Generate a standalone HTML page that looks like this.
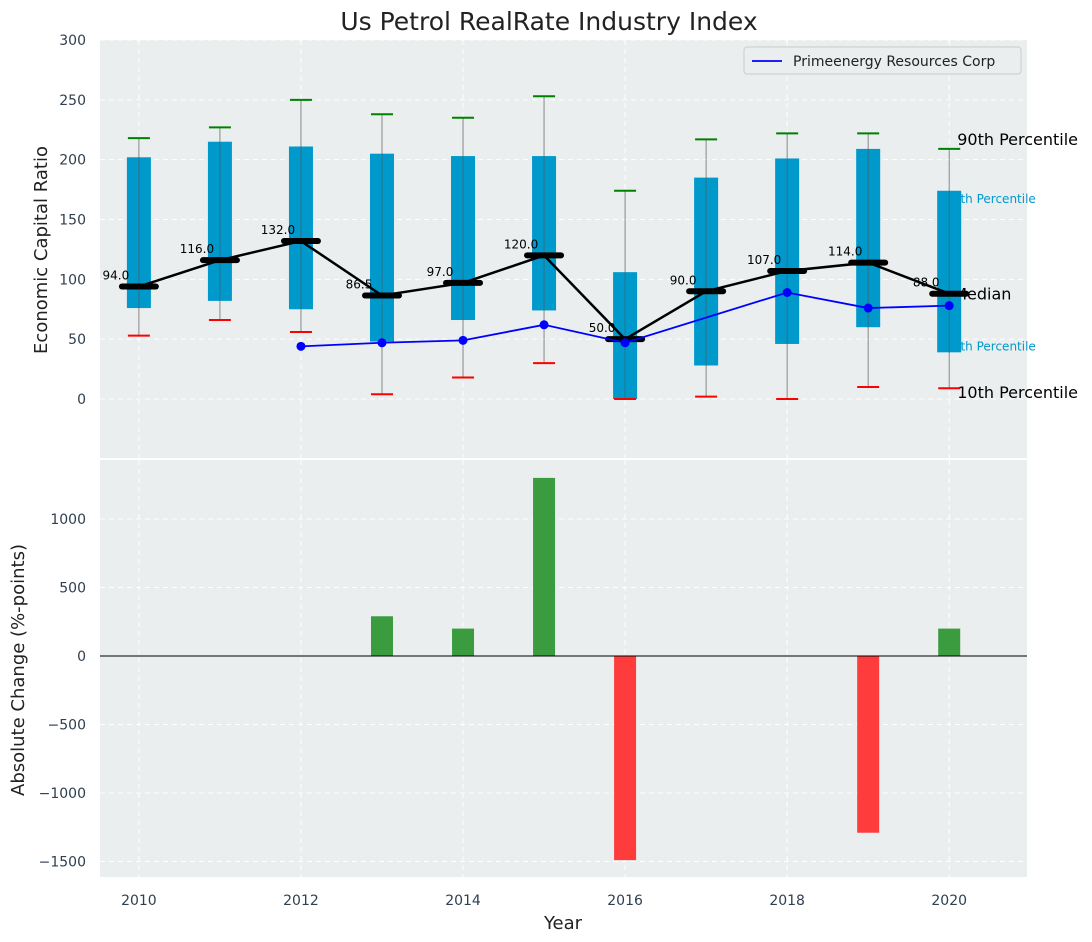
<!DOCTYPE html>
<html><head><meta charset="utf-8"><style>
body{margin:0;background:#fff;}
svg{display:block;font-family:"DejaVu Sans","Liberation Sans",sans-serif;}
</style></head><body>
<svg id="chart" width="1092" height="942"></svg>
<script>
const years=[2010,2011,2012,2013,2014,2015,2016,2017,2018,2019,2020];
const p10=[53,66,56,4,18,30,0,2,0,10,9];
const p25=[76,82,75,48,66,74,0,28,46,60,39];
const medians=[94,116,132,86.5,97,120,50,90,107,114,88];
const p75=[202,215,211,205,203,203,106,185,201,209,174];
const p90=[218,227,250,238,235,253,174,217,222,222,209];
const compYears=[2012,2013,2014,2015,2016,2018,2019,2020];
const compVals=[44,47,49,62,47,89,76,78];
const changeYears=[2013,2014,2015,2016,2019,2020];
const changeVals=[290,200,1300,-1490,-1290,200];
const topTicks=[0,50,100,150,200,250,300];
const botTicks=[-1500,-1000,-500,0,500,1000];
const xTicks=[2010,2012,2014,2016,2018,2020];

const NS="http://www.w3.org/2000/svg";
const svg=document.getElementById('chart');
function mk(tag,attrs,parent){const e=document.createElementNS(NS,tag);for(const k in attrs)e.setAttribute(k,attrs[k]);(parent||svg).appendChild(e);return e;}
const L=100,R=1027,T1=40,B1=458,T2=460,B2=877;
const x=v=>L+(v-2009.52)/(2020.96-2009.52)*(R-L);
const y1=v=>399+(0-v)*(359/300);
const y2=v=>656-v*0.137;
const fmt=t=>String(t).replace('-','\u2212');

let e=mk('rect',{x:L,y:T1,width:R-L,height:B1-T1,fill:'#eaeeee'});

e=mk('rect',{x:L,y:T2,width:R-L,height:B2-T2,fill:'#eaeeee'});


xTicks.forEach(t=>{
  mk('line',{x1:x(t),x2:x(t),y1:T1,y2:B1,stroke:'#fff','stroke-dasharray':'5,4','stroke-width':1});
  mk('line',{x1:x(t),x2:x(t),y1:T2,y2:B2,stroke:'#fff','stroke-dasharray':'5,4','stroke-width':1});
  e=mk('text',{x:x(t),y:905,'text-anchor':'middle','font-size':14,fill:'#2e3f50'});e.textContent=t;
  
});
topTicks.forEach(t=>{
  mk('line',{x1:L,x2:R,y1:y1(t),y2:y1(t),stroke:'#fff','stroke-dasharray':'5,4'});
  e=mk('text',{x:86,y:y1(t)+5,'text-anchor':'end','font-size':14,fill:'#2e3f50'});e.textContent=fmt(t);
  
});
botTicks.forEach(t=>{
  mk('line',{x1:L,x2:R,y1:y2(t),y2:y2(t),stroke:'#fff','stroke-dasharray':'5,4'});
  e=mk('text',{x:86,y:y2(t)+5,'text-anchor':'end','font-size':14,fill:'#2e3f50'});e.textContent=fmt(t);
  
});

const last=years.length-1, lx=x(years[last]);
[['90th Percentile',lx+8,y1(p90[last])-4,16,'#000'],['75th Percentile',lx-4,y1(p75[last])+12,12,'#0099cc'],
 ['Median',lx+4,y1(medians[last])+6,16,'#000'],['25th Percentile',lx-4,y1(p25[last])-2,12,'#0099cc'],
 ['10th Percentile',lx+8,y1(p10[last])+10,16,'#000']].forEach(a=>{
  e=mk('text',{x:a[1],y:a[2],'font-size':a[3],fill:a[4]});e.textContent=a[0];
  
});

years.forEach((yr,i)=>{
  const cx=x(yr);
  e=mk('line',{x1:cx,x2:cx,y1:y1(p10[i]),y2:y1(p90[i]),stroke:'#888','stroke-width':1});
  
  e=mk('rect',{x:cx-12,y:y1(p75[i]),width:24,height:y1(p25[i])-y1(p75[i]),fill:'#0099cc'});
  
  mk('line',{x1:cx,x2:cx,y1:y1(p75[i]),y2:y1(p25[i]),stroke:'#555','stroke-width':1,opacity:0.6});
  e=mk('line',{x1:cx-11,x2:cx+11,y1:y1(p90[i]),y2:y1(p90[i]),stroke:'green','stroke-width':2});
  
  e=mk('line',{x1:cx-11,x2:cx+11,y1:y1(p10[i]),y2:y1(p10[i]),stroke:'red','stroke-width':2});
  
});
e=mk('polyline',{points:years.map((yr,i)=>x(yr)+','+y1(medians[i])).join(' '),fill:'none',stroke:'#000','stroke-width':2.5});

years.forEach((yr,i)=>{
  const cx=x(yr),cy=y1(medians[i]);
  e=mk('line',{x1:cx-17,x2:cx+17,y1:cy,y2:cy,stroke:'#000','stroke-width':6,'stroke-linecap':'round'});
  
  e=mk('text',{x:cx-23,y:cy-7,'text-anchor':'middle','font-size':12,fill:'#000'});e.textContent=medians[i].toFixed(1);
  
});
e=mk('polyline',{points:compYears.map((yr,i)=>x(yr)+','+y1(compVals[i])).join(' '),fill:'none',stroke:'#0000ff','stroke-width':1.8});

compYears.forEach((yr,i)=>{
  e=mk('circle',{cx:x(yr),cy:y1(compVals[i]),r:4.5,fill:'#0000ff'});
  
});
const lg=mk('g',{});
mk('rect',{x:744,y:47,width:277,height:27,fill:'#eaeeee',stroke:'#ccc',rx:3},lg);
mk('line',{x1:752,x2:782,y1:61,y2:61,stroke:'#0000ff','stroke-width':1.8},lg);
e=mk('text',{x:793,y:66,'font-size':14,fill:'#222'},lg);e.textContent='Primeenergy Resources Corp';


changeYears.forEach((yr,i)=>{
  const v=changeVals[i];const cx=x(yr);
  e=mk('rect',{x:cx-11,y:Math.min(y2(v),y2(0)),width:22,height:Math.abs(y2(v)-y2(0)),fill:v>=0?'#3a9c3e':'#ff3c3c'});
  
});
mk('line',{x1:L,x2:R,y1:y2(0),y2:y2(0),stroke:'#000','stroke-width':1});

e=mk('text',{x:549,y:30,'text-anchor':'middle','font-size':25,fill:'#222'});e.textContent='Us Petrol RealRate Industry Index';

e=mk('text',{x:0,y:0,'text-anchor':'middle','font-size':18,fill:'#222',transform:'translate(47,250) rotate(-90)'});e.textContent='Economic Capital Ratio';

e=mk('text',{x:0,y:0,'text-anchor':'middle','font-size':18,fill:'#222',transform:'translate(24,670) rotate(-90)'});e.textContent='Absolute Change (%-points)';

e=mk('text',{x:563,y:929,'text-anchor':'middle','font-size':18,fill:'#222'});e.textContent='Year';

</script>
</body></html>
